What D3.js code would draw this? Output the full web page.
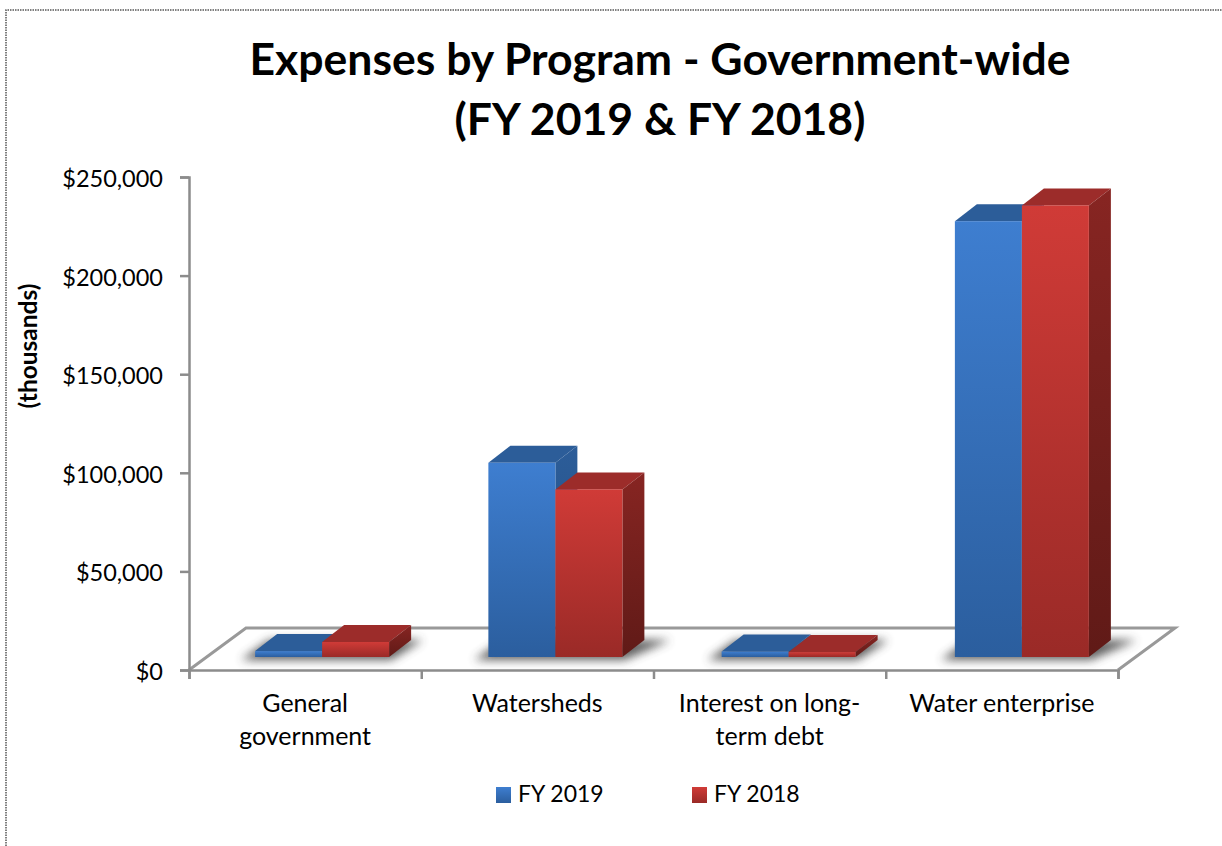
<!DOCTYPE html>
<html>
<head>
<meta charset="utf-8">
<script src="https://cdn.jsdelivr.net/npm/d3@7"></script>
<style>
    html, body { margin: 0; padding: 0; background: #fff; }
    svg { display: block; }
    text { font-family: Lato, "Open Sans", sans-serif; fill: #000; }
</style>
</head>
<body>
<svg width="1222" height="846"></svg>
<script>
var categories = ["General government", "Watersheds", "Interest on long-term debt", "Water enterprise"];
var categoryLines = [["General", "government"], ["Watersheds"], ["Interest on long-", "term debt"], ["Water enterprise"]];
var seriesNames = ["FY 2019", "FY 2018"];
var fy2019 = [3000, 98500, 2800, 221000];
var fy2018 = [7600, 85000, 2500, 229000];
var yTicks = [0, 50000, 100000, 150000, 200000, 250000];
var titleLines = ["Expenses by Program - Government-wide", "(FY 2019 & FY 2018)"];

var svg = d3.select("svg");

var left = 189, right = 1118, top_ = 177, bottom = 670;
var floorDx = 57, floorDy = -42;   // depth of the floor
var barDx = 22, barDy = -17;       // depth of one bar
var barLift = 13;                  // bars stand a bit behind the front edge of the floor
var barW = 67;

var x = d3.scaleBand().domain(categories).range([left, right]);
// bars sit further back in the 3d box so they step a little wider than the axis
var xBar = d3.scaleBand().domain(categories).range([left, right + 4]);
var y = d3.scaleLinear().domain([0, 250000]).range([bottom, top_]);

var colors = [
    {name: "blue", front0: "#3E7ED0", front1: "#2B5E9E", top: "#2C5D99", side0: "#2C5D99", side1: "#234C80"},
    {name: "red", front0: "#D03B37", front1: "#9A2A27", top: "#9C2C2A", side0: "#872522", side1: "#601A17"}
];

var defs = svg.append("defs");
colors.forEach(function(c) {
    var g = defs.append("linearGradient").attr("id", "front-" + c.name)
        .attr("x1", 0).attr("y1", 0).attr("x2", 0).attr("y2", 1);
    g.append("stop").attr("offset", "0%").attr("stop-color", c.front0);
    g.append("stop").attr("offset", "100%").attr("stop-color", c.front1);
    var s = defs.append("linearGradient").attr("id", "side-" + c.name)
        .attr("x1", 0).attr("y1", 0).attr("x2", 0).attr("y2", 1);
    s.append("stop").attr("offset", "0%").attr("stop-color", c.side0);
    s.append("stop").attr("offset", "100%").attr("stop-color", c.side1);
});
defs.append("filter").attr("id", "blur")
    .attr("x", "-30%").attr("y", "-100%").attr("width", "160%").attr("height", "300%")
    .append("feGaussianBlur").attr("stdDeviation", 5);

// frame round the picture
svg.append("path")
    .attr("d", "M6,846V10H1222")
    .attr("fill", "none")
    .attr("stroke", "#555")
    .attr("stroke-width", 1.5)
    .attr("stroke-dasharray", "1.5 1");

// title
svg.append("g").selectAll("text").data(titleLines).enter().append("text")
    .attr("x", 660)
    .attr("y", function(d, i) { return 75 + i * 60; })
    .attr("text-anchor", "middle")
    .attr("font-size", 44.5)
    .attr("font-weight", 700)
    .text(function(d) { return d; });

// y title
svg.append("text")
    .attr("transform", "translate(37,346) rotate(-90)")
    .attr("text-anchor", "middle")
    .attr("font-size", 24.5)
    .attr("font-weight", 700)
    .text("(thousands)");

// floor
svg.append("path")
    .attr("d", "M" + left + "," + y(0) +
        "L" + (left + floorDx) + "," + (y(0) + floorDy) +
        "H" + (right + floorDx) +
        "L" + right + "," + y(0))
    .attr("fill", "none")
    .attr("stroke", "#999")
    .attr("stroke-width", 3);

// axes
var yAxis = d3.axisLeft(y).tickValues(yTicks).tickSize(9).tickPadding(17)
    .tickFormat(function(d) { return "$" + d3.format(",")(d); });
var gy = svg.append("g").attr("transform", "translate(" + left + ",0)").call(yAxis);
gy.selectAll("text").attr("font-size", 23.5).attr("font-family", "Lato").attr("dy", "0.4em");
gy.selectAll("line, path").attr("stroke", "#8c8c8c").attr("stroke-width", 2.5);

var xEdge = d3.scaleLinear().domain([0, categories.length]).range([left, right]);
var xAxis = d3.axisBottom(xEdge).tickValues(d3.range(categories.length + 1)).tickSize(9).tickFormat("");
var gx = svg.append("g").attr("transform", "translate(0," + bottom + ")").call(xAxis);
gx.selectAll("line, path").attr("stroke", "#8c8c8c").attr("stroke-width", 2.5);

// category labels
categories.forEach(function(cat, i) {
    svg.append("g").selectAll("text").data(categoryLines[i]).enter().append("text")
        .attr("x", x(cat) + x.bandwidth() / 2)
        .attr("y", function(d, j) { return 712 + j * 33; })
        .attr("text-anchor", "middle")
        .attr("font-size", 25)
        .text(function(d) { return d; });
});

// bars
var series = [fy2019, fy2018];
var rows = categories.map(function(cat, i) {
    return {cat: cat, bars: series.map(function(s, k) { return {value: s[i], k: k}; })};
});
function barX(cat, k) {
    return xBar(cat) + xBar.bandwidth() / 2 - barW + 16.5 + k * barW;
}
var baseY = y(0) - barLift;

// soft shadow lying on the floor
svg.append("g").selectAll("path").data(rows).enter().append("path")
    .attr("d", function(r) {
        var x0 = barX(r.cat, 0) - 14, x1 = barX(r.cat, 1) + barW + 2;
        var sh = Math.min(24, 8 + Math.max(r.bars[0].value, r.bars[1].value) / 5000);
        return "M" + x0 + "," + (baseY + 3) +
            "L" + (x0 + barDx + 6) + "," + (baseY + barDy) +
            "H" + (x1 + barDx + sh) +
            "L" + x1 + "," + (baseY + 3) + "Z";
    })
    .attr("fill", "#444")
    .attr("opacity", 0.85)
    .attr("filter", "url(#blur)");

var groups = svg.append("g").selectAll("g").data(rows).enter().append("g");
var bars = groups.selectAll("g").data(function(r) {
    return r.bars.map(function(b) {
        return {x: barX(r.cat, b.k), top: y(b.value) - barLift, c: colors[b.k]};
    });
}).enter().append("g");

bars.append("path")  // top face
    .attr("d", function(d) {
        return "M" + d.x + "," + d.top + "l" + barDx + "," + barDy + "h" + barW + "l" + (-barDx) + "," + (-barDy) + "Z";
    })
    .attr("fill", function(d) { return d.c.top; });
bars.append("path")  // side face
    .attr("d", function(d) {
        return "M" + (d.x + barW) + "," + d.top + "l" + barDx + "," + barDy + "V" + (baseY + barDy) + "L" + (d.x + barW) + "," + baseY + "Z";
    })
    .attr("fill", function(d) { return "url(#side-" + d.c.name + ")"; });
bars.append("rect")  // front face
    .attr("x", function(d) { return d.x; })
    .attr("y", function(d) { return d.top; })
    .attr("width", barW)
    .attr("height", function(d) { return baseY - d.top; })
    .attr("fill", function(d) { return "url(#front-" + d.c.name + ")"; });

// legend
var legendX = [496, 692];
var legend = svg.append("g").selectAll("g").data(seriesNames).enter().append("g")
    .attr("transform", function(d, i) { return "translate(" + legendX[i] + ",787)"; });
legend.append("rect")
    .attr("width", 15).attr("height", 16)
    .attr("fill", function(d, i) { return "url(#front-" + colors[i].name + ")"; });
legend.append("text")
    .attr("x", 22).attr("y", 15)
    .attr("font-size", 23)
    .text(function(d) { return d; });
</script>
</body>
</html>
